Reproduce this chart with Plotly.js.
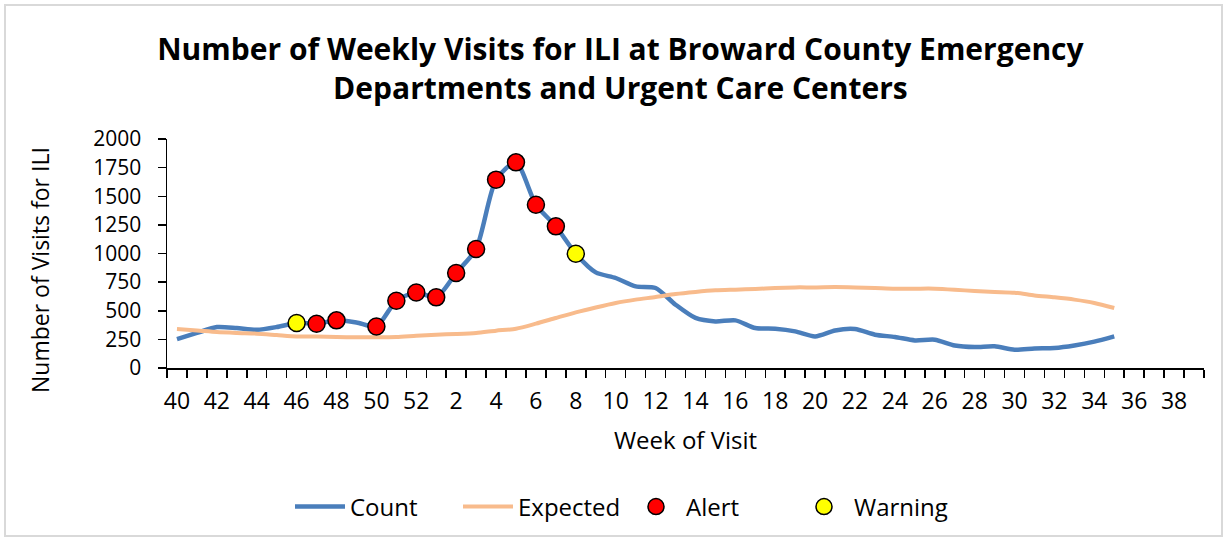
<!DOCTYPE html>
<html>
<head>
<meta charset="utf-8">
<script src="https://cdn.plot.ly/plotly-3.0.1.min.js"></script>
<style>html,body{margin:0;padding:0;background:#fff;}#chart{width:1231px;height:541px;}</style>
</head>
<body>
<div id="chart"></div>
<script>
// Week categories (season: week 40 to week 39)
const weeks = ['40','41','42','43','44','45','46','47','48','49','50','51','52',
  '1','2','3','4','5','6','7','8','9','10','11','12','13','14','15','16','17','18','19','20',
  '21','22','23','24','25','26','27','28','29','30','31','32','33','34','35','36','37','38','39'];

// Weeks with data (40 .. 35)
const dataWeeks = weeks.slice(0, 48);

const countValues = [253,306,358,349,334,358,393,387,416,398,363,588,660,
  617,830,1039,1645,1796,1426,1237,998,835,786,713,699,553,437,407,416,349,343,320,276,
  328,340,291,271,241,247,197,183,189,160,171,175,197,230,276];

const expectedValues = [340,328,314,306,300,288,276,276,271,268,268,271,282,
  291,297,306,326,343,387,437,486,529,568,597,620,646,664,678,684,690,699,704,704,
  707,704,699,693,693,693,684,672,664,658,634,617,597,568,524];

const alertWeeks = ['47','48','50','51','52','1','2','3','4','5','6','7'];
const warningWeeks = ['46','8'];

const tickLabels = weeks.map((w, i) => (i % 2 === 0 ? w : ''));

const lookup = w => countValues[dataWeeks.indexOf(w)];

const font = 'Open Sans, sans-serif';

const traces = [
  {x: dataWeeks, y: countValues, name: 'Count', type: 'scatter', mode: 'lines',
   line: {color: '#4a7ebb', width: 4.5, shape: 'spline', smoothing: 0.7}},
  {x: dataWeeks, y: expectedValues, name: 'Expected', type: 'scatter', mode: 'lines',
   line: {color: '#f8bb8c', width: 4, shape: 'spline', smoothing: 0.7}},
  {x: alertWeeks, y: alertWeeks.map(lookup), name: 'Alert', type: 'scatter', mode: 'markers',
   marker: {color: '#ff0000', size: 17, line: {color: '#000', width: 1.5}}},
  {x: warningWeeks, y: warningWeeks.map(lookup), name: 'Warning', type: 'scatter', mode: 'markers',
   marker: {color: '#ffff00', size: 17, line: {color: '#000', width: 1.5}}}
];

const layout = {
  width: 1231, height: 541,
  margin: {l: 167, r: 27, t: 139, b: 173},
  paper_bgcolor: '#fff', plot_bgcolor: '#fff',
  showlegend: true,
  title: {text: '<b>Number of Weekly Visits for ILI at Broward County Emergency<br>Departments and Urgent Care Centers</b>',
    font: {family: font, size: 30, color: '#000'}, x: 0.504, xanchor: 'center', xref: 'container',
    y: 0.889, yanchor: 'top', yref: 'container'},
  xaxis: {type: 'category', categoryorder: 'array', categoryarray: weeks,
    range: [-0.5, weeks.length - 0.5], tickmode: 'array', tickvals: weeks, ticktext: tickLabels,
    tickson: 'boundaries', ticks: 'outside', ticklen: 8, tickcolor: '#000', tickwidth: 1.5,
    ticklabelstandoff: 12,
    showline: true, linecolor: '#000', linewidth: 1.5, showgrid: false, zeroline: false,
    tickangle: 0, tickfont: {family: font, size: 23, color: '#000'},
    title: {text: 'Week of Visit', font: {family: font, size: 24, color: '#000'}, standoff: 17}},
  yaxis: {range: [0, 2000], tick0: 0, dtick: 250, ticks: 'outside', ticklen: 8,
    tickcolor: '#000', tickwidth: 1.5, showline: true, linecolor: '#000', linewidth: 1.5,
    ticklabelstandoff: 12,
    showgrid: false, zeroline: false, tickfont: {family: font, size: 21, color: '#000'}},
  annotations: [{text: 'Number of Visits for ILI', textangle: -90, xref: 'paper', yref: 'paper',
    x: (40 - 167) / 1037, y: (368 - 270) / 229, xanchor: 'center', yanchor: 'middle',
    showarrow: false, font: {family: font, size: 23, color: '#000'}}],
  legend: {orientation: 'h', x: (290 - 167) / 1037, xanchor: 'left', y: -0.607, yanchor: 'middle',
    entrywidth: 103, entrywidthmode: 'pixels',
    font: {family: font, size: 24, color: '#000'}, itemwidth: 50, bgcolor: 'rgba(0,0,0,0)'},
  shapes: [{type: 'rect', xref: 'paper', yref: 'paper',
    x0: (5 - 167) / 1037, x1: (1222 - 167) / 1037, y0: (368 - 536) / 229, y1: (368 - 5) / 229,
    line: {color: '#d9d9d9', width: 2}, fillcolor: 'rgba(0,0,0,0)', layer: 'below'}]
};

Plotly.newPlot('chart', traces, layout, {displayModeBar: false, staticPlot: true});
</script>
</body>
</html>
